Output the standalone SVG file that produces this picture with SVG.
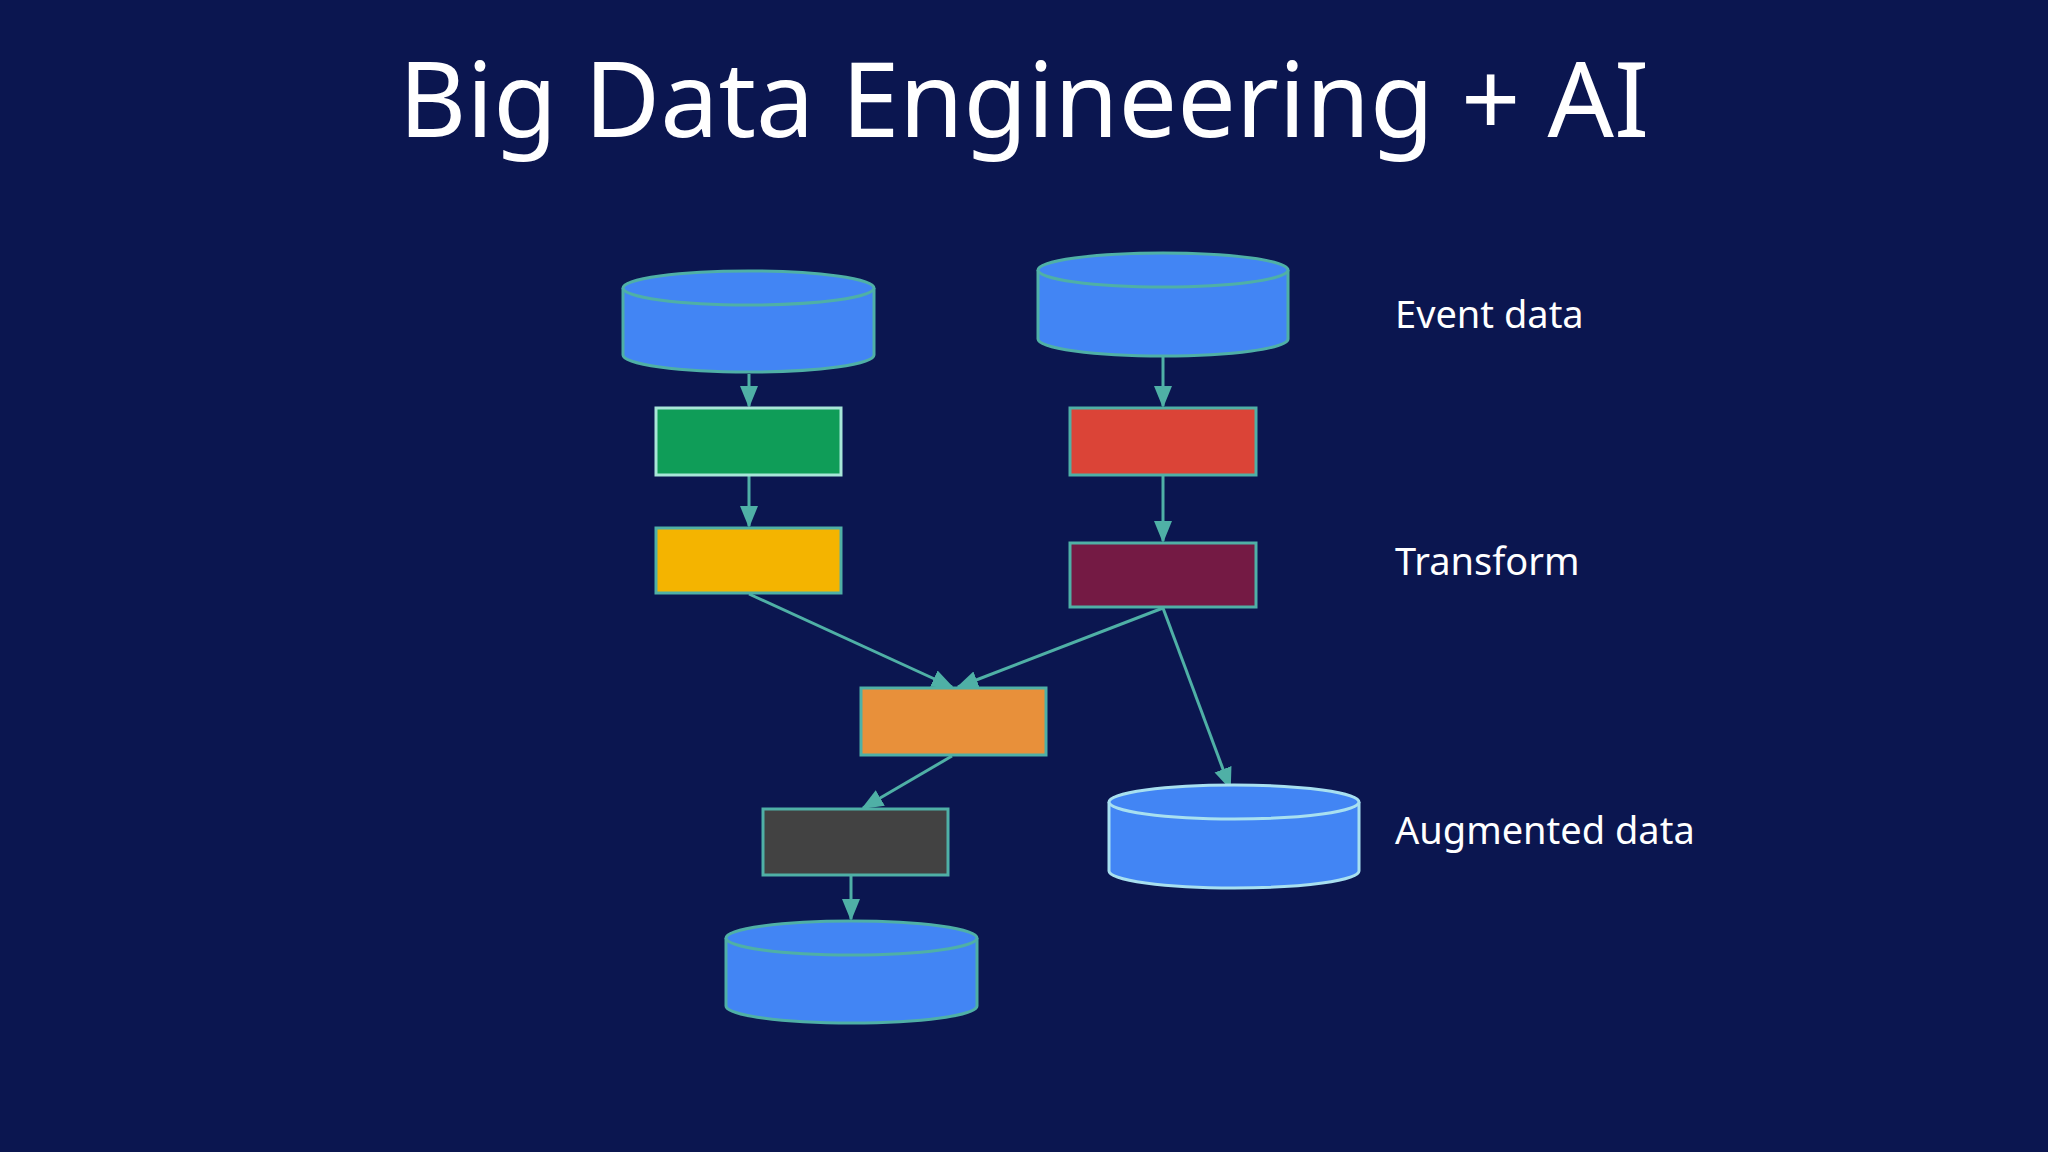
<svg xmlns="http://www.w3.org/2000/svg" width="2048" height="1152" viewBox="0 0 2048 1152">
<style>
.t{font-family:"Noto Sans","Liberation Sans",sans-serif;fill:#fff}
.cyl{fill:#4285f4;stroke:#4fb0a6;stroke-width:3}
.box{stroke:#4fb0a6;stroke-width:3}
.c line{stroke:#4fb0a6;stroke-width:3;marker-end:url(#a)}
</style>
<defs><marker id="a" markerWidth="10" markerHeight="10" refX="9" refY="5" orient="auto" markerUnits="userSpaceOnUse" viewBox="0 0 10 10"><path d="M0,0 L10,5 L0,10z" fill="#4fb0a6"/></marker>
<marker id="a2" markerWidth="22" markerHeight="22" refX="20" refY="11" orient="auto" markerUnits="userSpaceOnUse"><path d="M0,2 L22,11 L0,20z" fill="#4fb0a6"/></marker></defs>
<rect width="2048" height="1152" fill="#0b1650"/>
<text class="t" x="1024" y="137" font-size="104" text-anchor="middle">Big Data Engineering + AI</text>
<text class="t" x="1395" y="328" font-size="38">Event data</text>
<text class="t" x="1395" y="575" font-size="38">Transform</text>
<text class="t" x="1395" y="844" font-size="38">Augmented data</text>
<g class="c">
<line x1="749" y1="374" x2="749" y2="406" style="marker-end:url(#a2)"/>
<line x1="749" y1="476" x2="749" y2="526" style="marker-end:url(#a2)"/>
<line x1="1163" y1="357" x2="1163" y2="406" style="marker-end:url(#a2)"/>
<line x1="1163" y1="476" x2="1163" y2="541" style="marker-end:url(#a2)"/>
<line x1="749" y1="594" x2="952" y2="687" style="marker-end:url(#a2)"/>
<line x1="1163" y1="608" x2="958" y2="687" style="marker-end:url(#a2)"/>
<line x1="1163" y1="608" x2="1230" y2="788" style="marker-end:url(#a2)"/>
<line x1="952" y1="756" x2="863" y2="808" style="marker-end:url(#a2)"/>
<line x1="851" y1="876" x2="851" y2="919" style="marker-end:url(#a2)"/>
</g>
<g id="src1"><path class="cyl" d="M623,288 A125.5,17 0 0 1 874,288 V355 A125.5,17 0 0 1 623,355Z"/><path class="cyl" fill="none" d="M623,288 A125.5,17 0 0 0 874,288"/></g>
<g id="src2"><path class="cyl" d="M1038,270 A125,17 0 0 1 1288,270 V339 A125,17 0 0 1 1038,339Z"/><path class="cyl" fill="none" d="M1038,270 A125,17 0 0 0 1288,270"/></g>
<g id="green"><rect class="box" x="656" y="408" width="185" height="67" fill="#0f9d58" style="stroke:#a8e6d8"/></g>
<g id="yellow"><rect class="box" x="656" y="528" width="185" height="65" fill="#f4b400"/></g>
<g id="red"><rect class="box" x="1070" y="408" width="186" height="67" fill="#db4437"/></g>
<g id="maroon"><rect class="box" x="1070" y="543" width="186" height="64" fill="#741a44"/></g>
<g id="orange"><rect class="box" x="861" y="688" width="185" height="67" fill="#e8903a"/></g>
<g id="dark"><rect class="box" x="763" y="809" width="185" height="66" fill="#424242"/></g>
<g id="aug"><path class="cyl" style="stroke:#a8e0f0" d="M1109,802 A125,17 0 0 1 1359,802 V871 A125,17 0 0 1 1109,871Z"/><path class="cyl" style="stroke:#a8e0f0" fill="none" d="M1109,802 A125,17 0 0 0 1359,802"/></g>
<g id="out"><path class="cyl" d="M726,938 A125.5,17 0 0 1 977,938 V1006 A125.5,17 0 0 1 726,1006Z"/><path class="cyl" fill="none" d="M726,938 A125.5,17 0 0 0 977,938"/></g>
</svg>
